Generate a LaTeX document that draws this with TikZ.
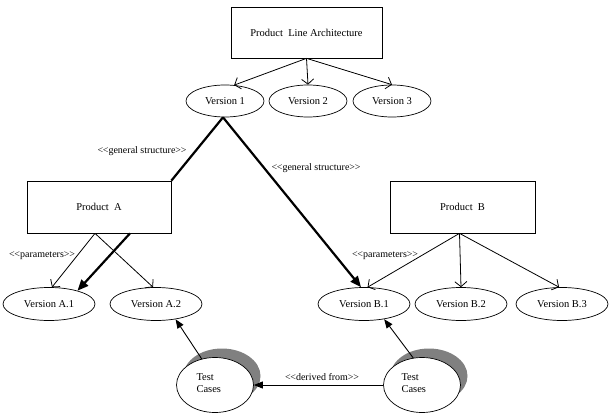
\documentclass[tikz,border=0pt]{standalone}
\usepackage{fontspec}
\setmainfont{Liberation Serif}
\usetikzlibrary{arrows.meta,shapes.geometric,calc,shadows}
\newcommand\myltlt{<\kern-0.3pt<}
\newcommand\mygtgt{>\kern-0.3pt>}

\begin{document}
\begin{tikzpicture}[x=1pt,y=-1pt,
  txt/.style={font=\fontsize{10.5}{12}\selectfont},
  lbl/.style={font=\fontsize{10}{12}\selectfont, inner sep=0pt},
  box/.style={draw, line width=0.7pt, inner sep=0pt, txt},
  ver/.style={draw, ellipse, line width=0.7pt, minimum width=92pt, minimum height=33pt, inner sep=0pt, txt},
  tc/.style={draw, ellipse, fill=white, line width=0.7pt, minimum width=77pt, minimum height=55pt, inner sep=0pt,
             drop shadow={shadow xshift=7pt, shadow yshift=9pt, fill=black!50, opacity=1}},
  openarr/.style={line width=0.8pt, -{Straight Barb[length=5pt,width=12pt]}},
  thickline/.style={line width=2.2pt},
  thickarr/.style={line width=2.2pt, -{Triangle[length=11pt,width=9pt]}},
  fillarr/.style={line width=0.9pt, -{Triangle[length=9pt,width=7pt]}}
]
\useasboundingbox (0,0) rectangle (611,420);

% boxes
\node[box, minimum width=151pt, minimum height=51pt] (pla) at (306.5,32.5) {Product\ \ Line Architecture};
\node[box, minimum width=144pt, minimum height=52pt] (pa) at (99,207) {Product\ \ A};
\node[box, minimum width=145pt, minimum height=52pt] (pb) at (462.5,207) {Product\ \ B};

% versions
\node[ver, minimum width=78pt, minimum height=32pt] (v1) at (225,101) {Version 1};
\node[ver, minimum width=78pt, minimum height=32pt] (v2) at (308,101) {Version 2};
\node[ver, minimum width=78pt, minimum height=32pt] (v3) at (392,101) {Version 3};

\node[ver] (va1) at (49,304) {Version A.1};
\node[ver] (va2) at (156,304) {Version A.2};
\node[ver] (vb1) at (364,304) {Version B.1};
\node[ver] (vb2) at (461,304) {Version B.2};
\node[ver] (vb3) at (562,304) {Version B.3};

% test cases
\node[tc] (tca) at (215,385) {};
\node[txt, align=left, anchor=west] (tcat) at (193,383) {Test\\Cases};
\node[tc] (tcb) at (422,385) {};
\node[txt, align=left, anchor=west] (tcbt) at (398,383) {Test\\Cases};

% connectors from PLA
\draw[openarr] (pla.south) -- (v1.60);
\draw[openarr] (pla.south) -- (v2.north);
\draw[openarr] (pla.south) -- (v3.north);

% general structure
\coordinate (v1b) at ($(v1.south)+(-2,0)$);
\draw[thickline] (v1b) -- (pa.north east);
\draw[thickarr] (v1b) -- (vb1.100);

% product A
\coordinate (pab) at ($(pa.south)+(-4,0)$);
\coordinate (pab2) at ($(pa.south)+(31,0)$);
\draw[openarr] (pab) -- (va1.80);
\draw[openarr] (pab) -- (va2.100);
\draw[thickarr] (pab2) -- (va1.25);

% product B
\coordinate (pbb) at ($(pb.south)+(-3,0)$);
\draw[openarr] (pbb) -- (vb1.78);
\draw[openarr] (pbb) -- (vb2.north);
\draw[openarr] (pbb) -- (vb3.100);

% test cases arrows
\draw[fillarr] (tca.117) -- (va2.-38);
\draw[fillarr] (tcb.108) -- (vb1.-37);
\draw[fillarr] (tcb.west) -- (tca.east);

% labels
\node[lbl] (l1) at (142,151) {\myltlt general structure\mygtgt};
\node[lbl] (l2) at (316,168) {\myltlt general structure\mygtgt};
\node[lbl] (l3) at (42,256) {\myltlt parameters\mygtgt};
\node[lbl] (l4) at (385,256) {\myltlt parameters\mygtgt};
\node[lbl] (l5) at (322,377) {\myltlt derived from\mygtgt};
\end{tikzpicture}
\end{document}
